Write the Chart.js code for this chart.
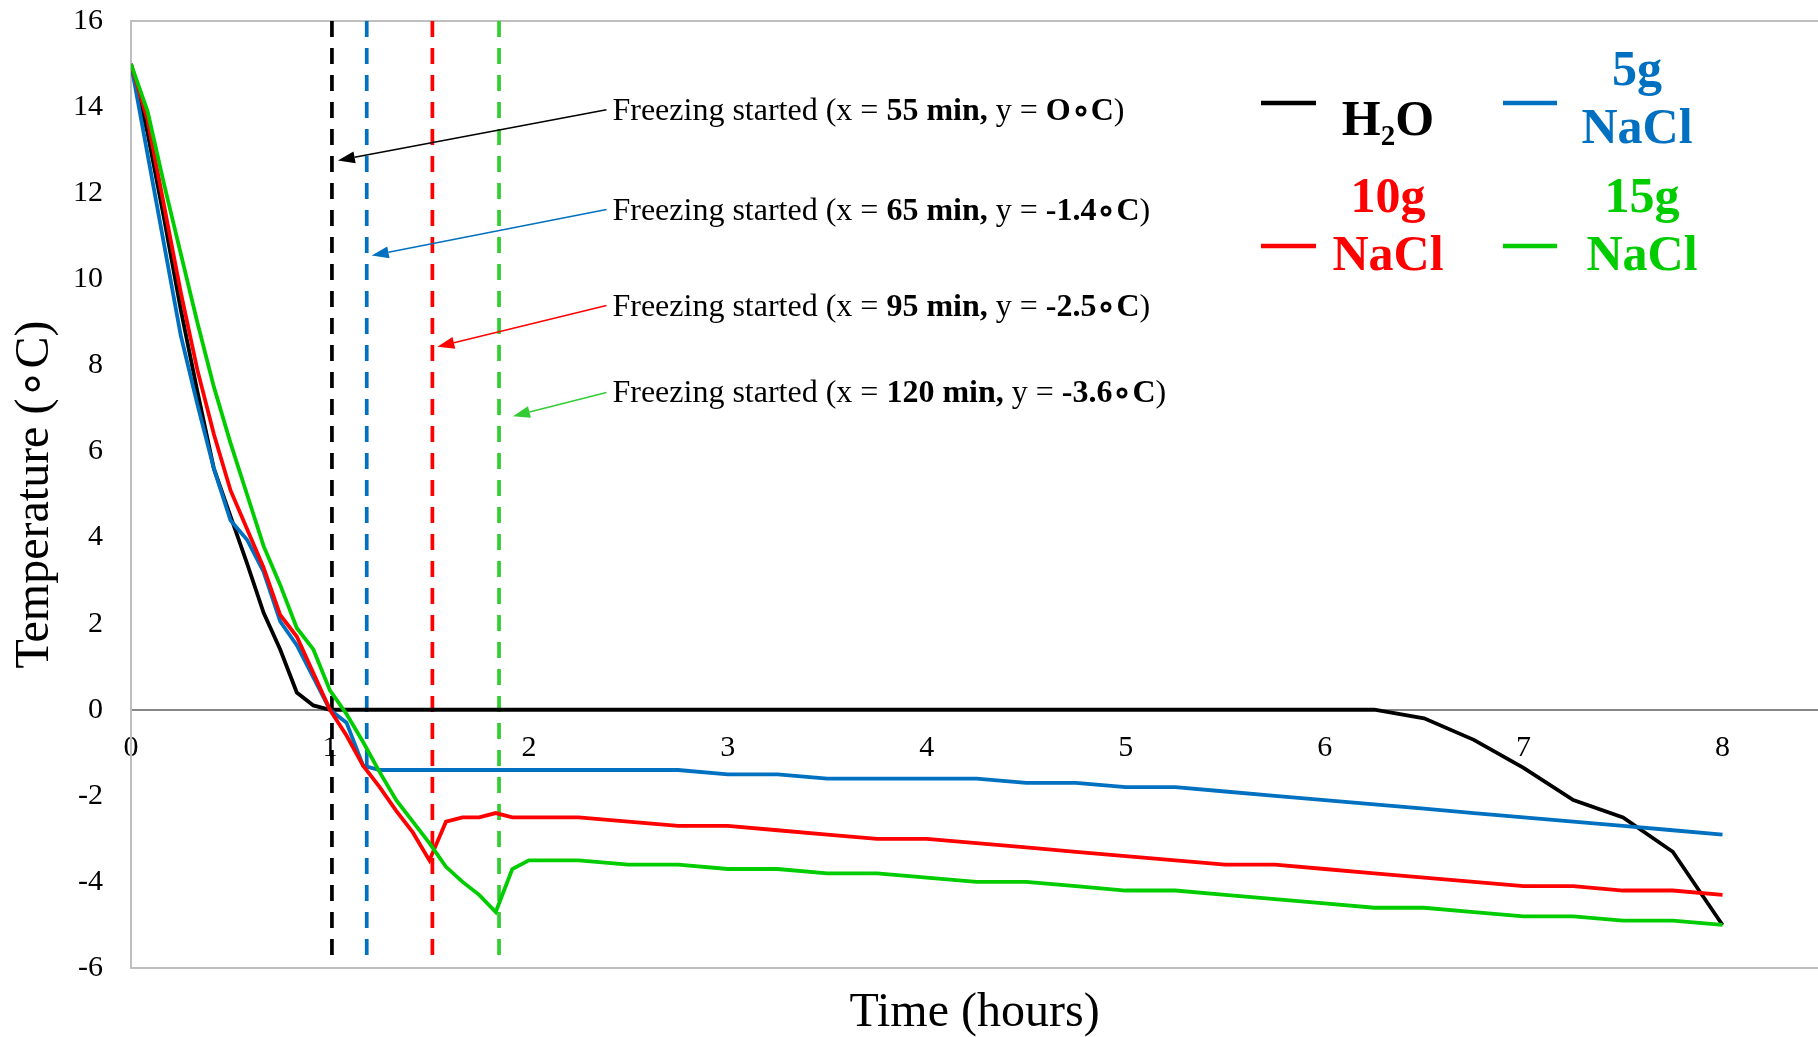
<!DOCTYPE html>
<html>
<head>
<meta charset="utf-8">
<script src="https://cdn.jsdelivr.net/npm/chart.js@4.4.1/dist/chart.umd.min.js"></script>
<style>
  html, body { margin: 0; padding: 0; background: #fff; }
  #wrap { width: 1818px; height: 1037px; }
</style>
</head>
<body>
<div id="wrap"><canvas id="chart" width="1818" height="1037"></canvas></div>
<script>
// time of each reading, minutes (5 min steps first, then 15 min)
const timeMin = [0,5,10,15,20,25,30,35,40,45,50,55,60,65,70,75,80,85,90,95,100,105,110,115,120,
  135,150,165,180,195,210,225,240,255,270,285,300,315,330,345,360,375,390,405,420,435,450,465,480];

// temperatures, deg C
const h2o = [15,13.4,11.4,9.3,7.4,5.6,4.5,3.4,2.25,1.4,0.4,0.1,0,
  0,0,0,0,0,0,0,0,0,0,0,0,
  0,0,0,0,0,0,0,0,0,0,0,0,0,0,0,0,0,
  -0.2,-0.7,-1.35,-2.1,-2.5,-3.3,-5.0];
const nacl5 = [15,12.9,10.8,8.7,7.1,5.6,4.4,3.95,3.2,2.05,1.5,0.75,0,
  -0.3,-1.3,-1.4,-1.4,-1.4,-1.4,-1.4,-1.4,-1.4,-1.4,-1.4,-1.4,
  -1.4,-1.4,-1.4,-1.5,-1.5,-1.6,-1.6,-1.6,-1.6,-1.7,-1.7,-1.8,-1.8,-1.9,-2.0,-2.1,-2.2,-2.3,-2.4,-2.5,-2.6,-2.7,-2.8,-2.9];
const nacl10 = [15,13.7,11.7,9.7,7.9,6.4,5.1,4.2,3.3,2.2,1.7,0.85,0,
  -0.6,-1.3,-1.8,-2.35,-2.85,-3.5,-2.6,-2.5,-2.5,-2.4,-2.5,-2.5,
  -2.5,-2.6,-2.7,-2.7,-2.8,-2.9,-3.0,-3.0,-3.1,-3.2,-3.3,-3.4,-3.5,-3.6,-3.6,-3.7,-3.8,-3.9,-4.0,-4.1,-4.1,-4.2,-4.2,-4.3];
const nacl15 = [15,13.9,12.2,10.6,9.0,7.5,6.2,5.0,3.8,2.9,1.9,1.4,0.45,
  -0.1,-0.75,-1.45,-2.1,-2.6,-3.1,-3.65,-4.0,-4.3,-4.7,-3.7,-3.5,
  -3.5,-3.6,-3.6,-3.7,-3.7,-3.8,-3.8,-3.9,-4.0,-4.0,-4.1,-4.2,-4.2,-4.3,-4.4,-4.5,-4.6,-4.6,-4.7,-4.8,-4.8,-4.9,-4.9,-5.0];

const seriesNames = ['H2O', '5g NaCl', '10g NaCl', '15g NaCl'];
const seriesColors = ['#000000', '#0070C0', '#FF0000', '#00CC00'];
const legendLines = [['H2O'], ['5g', 'NaCl'], ['10g', 'NaCl'], ['15g', 'NaCl']];

// freezing start markers (hours) + notes
const freezeX = [1.01, 1.185, 1.515, 1.85];
const freezeColors = ['#000000', '#0070C0', '#FF0000', '#33CC33'];
const freezeMin = ['55 min,', '65 min,', '95 min,', '120 min,'];
const freezeTemp = ['O\u2218C', '-1.4\u2218C', '-2.5\u2218C', '-3.6\u2218C'];
const noteFromX = 2.39;
const noteFromY = [13.94, 11.62, 9.39, 7.37];
const noteToX = [1.04, 1.21, 1.54, 1.92];
const noteToY = [12.76, 10.55, 8.43, 6.82];

const xTickValues = [0, 1, 2, 3, 4, 5, 6, 7, 8];
const yTickValues = [-6, -4, -2, 0, 2, 4, 6, 8, 10, 12, 14, 16];

const FONT = '"Liberation Serif", "Times New Roman", serif';

const toPoints = vals => vals.map((v, i) => ({ x: timeMin[i] / 60, y: v }));
const allSeries = [h2o, nacl5, nacl10, nacl15];

const datasets = allSeries.map((vals, i) => ({
  label: seriesNames[i],
  data: toPoints(vals),
  borderColor: seriesColors[i],
  backgroundColor: seriesColors[i],
  borderWidth: 3.8,
  pointRadius: 0,
  tension: 0,
  order: 4 - i
}));
freezeX.forEach((fx, i) => {
  datasets.push({
    label: 'freeze' + i,
    data: [{ x: fx, y: 16 }, { x: fx, y: -5.75 }],
    borderColor: freezeColors[i],
    borderWidth: 3.7,
    borderDash: [16, 11],
    pointRadius: 0,
    order: 10
  });
});

// top edge of the plot frame
const framePlugin = {
  id: 'frame',
  beforeDatasetsDraw(chart) {
    const { ctx, chartArea } = chart;
    ctx.save();
    ctx.strokeStyle = '#BFBFBF';
    ctx.lineWidth = 2;
    ctx.beginPath();
    ctx.moveTo(chartArea.left, chartArea.top);
    ctx.lineTo(chartArea.right, chartArea.top);
    ctx.stroke();
    ctx.restore();
  }
};

// arrows + "Freezing started" notes
const notesPlugin = {
  id: 'notes',
  afterDatasetsDraw(chart) {
    const { ctx, scales } = chart;
    const xs = scales.x, ys = scales.y;
    ctx.save();
    freezeX.forEach((_, i) => {
      const fx = xs.getPixelForValue(noteFromX), fy = ys.getPixelForValue(noteFromY[i]);
      const tx = xs.getPixelForValue(noteToX[i]), ty = ys.getPixelForValue(noteToY[i]);
      ctx.strokeStyle = freezeColors[i];
      ctx.fillStyle = freezeColors[i];
      ctx.lineWidth = 1.5;
      const ang = Math.atan2(ty - fy, tx - fx);
      const hl = 17, hw = 6;
      const bx = tx - hl * Math.cos(ang), by = ty - hl * Math.sin(ang);
      ctx.beginPath();
      ctx.moveTo(fx, fy);
      ctx.lineTo(bx, by);
      ctx.stroke();
      ctx.beginPath();
      ctx.moveTo(tx, ty);
      ctx.lineTo(bx + hw * Math.sin(ang), by - hw * Math.cos(ang));
      ctx.lineTo(bx - hw * Math.sin(ang), by + hw * Math.cos(ang));
      ctx.closePath();
      ctx.fill();

      const runs = [['Freezing started (x = ', false], [freezeMin[i], true], [' y = ', false], [freezeTemp[i], true], [')', false]];
      let x = fx + 6;
      const y = fy + 10;
      ctx.fillStyle = '#000';
      ctx.textBaseline = 'alphabetic';
      ctx.textAlign = 'left';
      runs.forEach(([txt, bold]) => {
        ctx.font = (bold ? 'bold ' : '') + '32px ' + FONT;
        ctx.fillText(txt, x, y);
        x += ctx.measureText(txt).width;
      });
    });
    ctx.restore();
  }
};

// legend laid out in two columns with wrapped labels
const legendSpots = [
  { mark: [1261, 1316, 103], cx: 1388, base: [135] },
  { mark: [1503, 1557, 103], cx: 1637, base: [85, 143] },
  { mark: [1261, 1316, 246], cx: 1388, base: [212, 270] },
  { mark: [1503, 1557, 246], cx: 1642, base: [212, 270] }
];
function drawLabelLine(ctx, text, cx, base, color) {
  const parts = text.match(/[A-Za-z]+|\d+/g).map((p, k, arr) => ({
    t: p, sub: /\d/.test(p) && k > 0 && /[A-Za-z]/.test(arr[k - 1])
  }));
  const big = 'bold 50px ' + FONT, small = 'bold 29px ' + FONT;
  let w = 0;
  parts.forEach(p => { ctx.font = p.sub ? small : big; p.w = ctx.measureText(p.t).width; w += p.w; });
  let x = cx - w / 2;
  ctx.fillStyle = color;
  parts.forEach(p => {
    ctx.font = p.sub ? small : big;
    ctx.fillText(p.t, x, p.sub ? base + 10 : base);
    x += p.w;
  });
}
const legendPlugin = {
  id: 'sideLegend',
  afterDraw(chart) {
    const { ctx } = chart;
    ctx.save();
    ctx.textAlign = 'left';
    ctx.textBaseline = 'alphabetic';
    legendSpots.forEach((s, i) => {
      const color = chart.data.datasets[i].borderColor;
      ctx.strokeStyle = color;
      ctx.lineWidth = 4.5;
      ctx.beginPath();
      ctx.moveTo(s.mark[0], s.mark[2]);
      ctx.lineTo(s.mark[1], s.mark[2]);
      ctx.stroke();
      legendLines[i].forEach((line, k) => drawLabelLine(ctx, line, s.cx, s.base[k], color));
    });
    ctx.restore();
  }
};

const ctx = document.getElementById('chart').getContext('2d');
const chart = new Chart(ctx, {
  type: 'line',
  data: { datasets: datasets },
  options: {
    responsive: false,
    animation: false,
    devicePixelRatio: 1,
    layout: { padding: { top: 21, left: 0, right: 0, bottom: 0 } },
    plugins: {
      legend: { display: false },
      tooltip: { enabled: false },
      title: { display: false }
    },
    scales: {
      x: {
        type: 'linear',
        min: 0,
        max: 8.48,
        position: { y: 0 },
        afterBuildTicks: s => { s.ticks = xTickValues.map(v => ({ value: v })); },
        grid: { display: false, drawTicks: false },
        border: { display: true, color: '#868686', width: 2 },
        ticks: { padding: 20, color: '#000', font: { family: FONT, size: 30 } }
      },
      xFrame: {
        type: 'linear',
        axis: 'x',
        position: 'bottom',
        min: 0,
        max: 8.48,
        afterFit: s => { s.height = 69; },
        ticks: { display: false },
        grid: { display: false, drawTicks: false },
        border: { display: true, color: '#BFBFBF', width: 2 },
        title: {
          display: true,
          text: 'Time (hours)',
          color: '#000',
          font: { family: FONT, size: 48, lineHeight: 1 },
          padding: { top: 0, bottom: 0 }
        }
      },
      y: {
        type: 'linear',
        min: -6,
        max: 16,
        afterBuildTicks: s => { s.ticks = yTickValues.map(v => ({ value: v })); },
        afterFit: s => { s.width = 131; s.paddingTop = 0; s.paddingBottom = 0; },
        grid: { display: false, drawTicks: false },
        border: { display: true, color: '#BFBFBF', width: 2 },
        ticks: { padding: 28, color: '#000', font: { family: FONT, size: 30 } },
        title: {
          display: true,
          text: 'Temperature (\u2218C)',
          color: '#000',
          font: { family: FONT, size: 48, lineHeight: 1 },
          padding: { top: 11, bottom: 0 }
        }
      }
    }
  },
  plugins: [framePlugin, notesPlugin, legendPlugin]
});
</script>
</body>
</html>
